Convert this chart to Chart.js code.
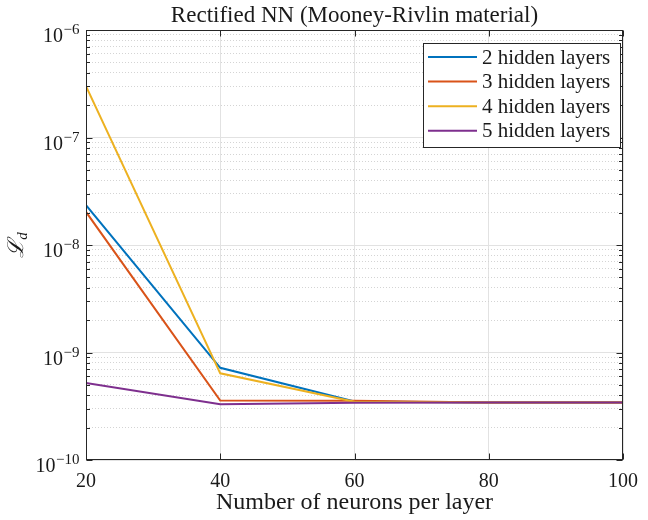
<!DOCTYPE html>
<html>
<head>
<meta charset="utf-8">
<title>Rectified NN (Mooney-Rivlin material)</title>
<script src="https://cdn.jsdelivr.net/npm/chart.js@4.4.1/dist/chart.umd.min.js"></script>
<style>
  html, body { margin: 0; padding: 0; background: #fff; }
  #chart { display: block; }
</style>
</head>
<body>
<canvas id="chart" width="648" height="520"></canvas>
<script>
// Rectified NN - data loss vs. neurons per layer

const neurons = [20, 40, 60, 80, 100];
const layers2 = [2.35e-8, 7.2e-10, 3.5e-10, 3.42e-10, 3.42e-10];
const layers3 = [2.03e-8, 3.57e-10, 3.55e-10, 3.43e-10, 3.42e-10];
const layers4 = [3.0e-7, 6.4e-10, 3.48e-10, 3.42e-10, 3.42e-10];
const layers5 = [5.2e-10, 3.3e-10, 3.4e-10, 3.42e-10, 3.42e-10];
const seriesLabels = ['2 hidden layers', '3 hidden layers', '4 hidden layers', '5 hidden layers'];
const seriesColors = ['#0072BD', '#D95319', '#EDB120', '#7E2F8E'];
const xTicks = [20, 40, 60, 80, 100];
const yExponents = [-10, -9, -8, -7, -6];

const SERIF = "'Liberation Serif', 'DejaVu Serif', serif";
const AXIS_COLOR = '#262626';

// decades plus 2..9 minor steps
function logTicks() {
  const ticks = [];
  yExponents.forEach((e, i) => {
    const last = i === yExponents.length - 1;
    for (let k = 1; k <= (last ? 1 : 9); k++) {
      ticks.push({ value: k * Math.pow(10, e), major: k === 1, exp: e });
    }
  });
  return ticks;
}

// box, inward ticks, superscript labels, y label and legend
const matlabAxes = {
  id: 'matlabAxes',
  afterDraw(chart) {
    const { ctx, chartArea: a, scales: { x, y } } = chart;
    const left = Math.round(a.left) + 0.5, right = Math.round(a.right) - 0.5;
    const top = Math.round(a.top) + 0.5, bottom = Math.round(a.bottom) - 0.5;
    ctx.save();

    ctx.strokeStyle = AXIS_COLOR;
    ctx.lineWidth = 1;
    ctx.beginPath();
    x.ticks.forEach(t => {
      const px = Math.round(x.getPixelForValue(t.value)) + 0.5;
      ctx.moveTo(px, bottom); ctx.lineTo(px, bottom - 6);
      ctx.moveTo(px, top); ctx.lineTo(px, top + 6);
    });
    y.ticks.forEach(t => {
      const py = Math.round(y.getPixelForValue(t.value)) + 0.5;
      const len = t.major ? 6 : 3.5;
      ctx.moveTo(left, py); ctx.lineTo(left + len, py);
      ctx.moveTo(right, py); ctx.lineTo(right - len, py);
    });
    ctx.stroke();
    ctx.strokeRect(left, top, right - left, bottom - top);

    // 10^n tick labels
    ctx.fillStyle = '#1a1a1a';
    ctx.textBaseline = 'alphabetic';
    ctx.textAlign = 'left';
    y.ticks.filter(t => t.major).forEach(t => {
      const py = y.getPixelForValue(t.value);
      const sup = '\u2212' + Math.abs(t.exp);
      ctx.font = '20px ' + SERIF;
      const baseW = ctx.measureText('10').width;
      ctx.font = '15px ' + SERIF;
      const supW = ctx.measureText(sup).width;
      const x0 = a.left - 7 - supW - baseW;
      ctx.font = '20px ' + SERIF;
      ctx.fillText('10', x0, py + 12);
      ctx.font = '15px ' + SERIF;
      ctx.fillText(sup, x0 + baseW + 0.5, py + 4);
    });

    // y axis label: script L with subscript d
    ctx.save();
    ctx.translate(18, (a.top + a.bottom) / 2);
    ctx.rotate(-Math.PI / 2);
    ctx.font = 'italic 22px ' + SERIF;
    const lw = ctx.measureText('\u2112').width;
    ctx.font = 'italic 15px ' + SERIF;
    const dw = ctx.measureText('d').width;
    const sx = -(lw + dw) / 2;
    ctx.font = 'italic 22px ' + SERIF;
    ctx.fillText('\u2112', sx, 5);
    ctx.font = 'italic 15px ' + SERIF;
    ctx.fillText('d', sx + lw, 9);
    ctx.restore();

    // legend
    const bx = 423.5, by = 43.5, bw = 197, bh = 104;
    ctx.fillStyle = '#fff';
    ctx.fillRect(bx, by, bw, bh);
    ctx.strokeStyle = AXIS_COLOR;
    ctx.strokeRect(bx, by, bw, bh);
    ctx.font = '21px ' + SERIF;
    ctx.textBaseline = 'middle';
    chart.data.datasets.forEach((ds, i) => {
      const ry = 57 + i * 24.6;
      ctx.strokeStyle = ds.borderColor;
      ctx.lineWidth = 2;
      ctx.beginPath();
      ctx.moveTo(428, ry); ctx.lineTo(477, ry);
      ctx.stroke();
      ctx.fillStyle = '#1a1a1a';
      ctx.fillText(ds.label, 482, ry + 1);
    });
    ctx.restore();
  }
};

const series = [layers2, layers3, layers4, layers5];
const datasets = series.map((vals, i) => ({
  label: seriesLabels[i],
  data: neurons.map((n, j) => ({ x: n, y: vals[j] })),
  borderColor: seriesColors[i],
  borderWidth: 2,
  pointRadius: 0,
  tension: 0,
  fill: false,
  order: series.length - i
}));

new Chart(document.getElementById('chart'), {
  type: 'line',
  data: { datasets },
  options: {
    responsive: false,
    animation: false,
    layout: { padding: { left: 0, right: 14, top: 0, bottom: 0 } },
    plugins: {
      legend: { display: false },
      tooltip: { enabled: false },
      title: {
        display: true,
        fullSize: false,
        text: 'Rectified NN (Mooney-Rivlin material)',
        color: '#1a1a1a',
        font: { family: SERIF, size: 23, weight: 'normal', lineHeight: 1 },
        padding: { top: 4, bottom: 3 }
      }
    },
    scales: {
      x: {
        type: 'linear',
        min: 20, max: 100,
        afterBuildTicks: scale => { scale.ticks = xTicks.map(v => ({ value: v })); },
        afterFit: scale => { scale.height = 60; },
        grid: { color: '#e2e2e2', drawTicks: false },
        border: { display: false },
        ticks: { color: '#1a1a1a', padding: 10, font: { family: SERIF, size: 20 } },
        title: {
          display: true,
          text: 'Number of neurons per layer',
          color: '#1a1a1a',
          font: { family: SERIF, size: 24, lineHeight: 1 },
          padding: { top: 0, bottom: 5 }
        }
      },
      y: {
        type: 'logarithmic',
        min: 1e-10, max: 1e-6,
        afterBuildTicks: scale => { scale.ticks = logTicks(); },
        afterFit: scale => { scale.width = 86; },
        grid: {
          drawTicks: false,
          color: c => (c.tick && c.tick.major) ? '#e2e2e2' : '#d4d4d4'
        },
        border: {
          display: false,
          dash: c => (c.tick && !c.tick.major) ? [1, 2] : []
        },
        ticks: { display: false }
      }
    }
  },
  plugins: [matlabAxes]
});
</script>
</body>
</html>
